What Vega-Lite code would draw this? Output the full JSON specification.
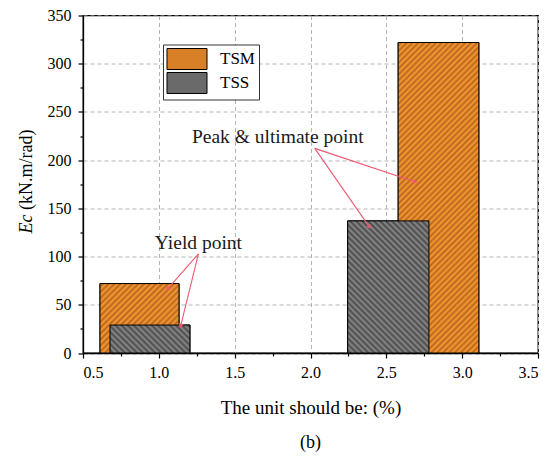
{
  "$schema": "https://vega.github.io/schema/vega-lite/v6.json",
  "width": 455,
  "height": 337.5,
  "autosize": {"type": "none"},
  "padding": {"left": 83, "top": 15.5, "right": 14, "bottom": 103},
  "background": "white",
  "config": {
    "font": "Liberation Serif",
    "style": {"guide-label": {"font": "Liberation Serif"}, "guide-title": {"font": "Liberation Serif"}},
    "view": {"stroke": "black", "strokeWidth": 1.3},
    "axis": {
      "labelFont": "Liberation Serif", "titleFont": "Liberation Serif",
      "labelColor": "black", "titleColor": "black", "domainColor": "black", "tickColor": "black",
      "labelFontSize": 16, "titleFontSize": 19, "titleFontWeight": "normal",
      "gridColor": "#b4b4b4", "gridDash": [4, 3], "gridWidth": 1, "domainWidth": 1.3, "tickWidth": 1.2
    }
  },
  "title": {"text": "(b)", "orient": "bottom", "fontSize": 18, "fontWeight": "normal", "font": "Liberation Serif", "color": "black", "offset": 17},
  "data": {
    "values": [
      {"id": "TSM1", "series": "TSM", "x0": 0.612, "x1": 1.133, "ec": 72},
      {"id": "TSM2", "series": "TSM", "x0": 2.578, "x1": 3.11, "ec": 322},
      {"id": "TSS1", "series": "TSS", "x0": 0.678, "x1": 1.205, "ec": 29},
      {"id": "TSS2", "series": "TSS", "x0": 2.245, "x1": 2.781, "ec": 137}
    ]
  },
  "resolve": {"axis": {"y": "independent", "x": "independent"}},
  "layer": [
    {
      "mark": {"type": "bar", "stroke": "black", "strokeWidth": 1, "opacity": 1},
      "encoding": {
        "x": {
          "field": "x0", "type": "quantitative",
          "scale": {"domain": [0.5, 3.5], "nice": false, "zero": false},
          "axis": {"orient": "bottom", "title": "The unit should be: (%)", "values": [0.5, 1, 1.5, 2, 2.5, 3, 3.5], "format": ".1f", "tickSize": 5, "labelPadding": 6, "labelFont": "Liberation Serif", "labelFontSize": 16, "titleY": 60.3, "titleBaseline": "alphabetic", "titleAlign": "center", "titleFontSize": 19}
        },
        "x2": {"field": "x1"},
        "y": {
          "field": "ec", "type": "quantitative",
          "scale": {"domain": [0, 350], "nice": false},
          "axis": {"orient": "left", "title": "(kN.m/rad)", "values": [0, 50, 100, 150, 200, 250, 300, 350], "tickSize": 5, "labelPadding": 7, "labelFont": "Liberation Serif", "labelFontSize": 16, "titleX": -52, "titleY": 153.8, "titleAngle": -90, "titleAlign": "center", "titleBaseline": "alphabetic", "titleFontSize": 18}
        },
        "y2": {"datum": 0},
        "color": {
          "field": "series", "type": "nominal",
          "scale": {"domain": ["TSM", "TSS"], "range": ["#d88028", "#6a6a6a"]},
          "legend": {
            "orient": "none", "legendX": 80, "legendY": 29, "title": null,
            "symbolType": "M-1.905,-1H1.905V1H-1.905Z", "symbolSize": 441, "symbolOffset": 9.5,
            "symbolStrokeColor": "black", "symbolStrokeWidth": 1, "symbolOpacity": 1,
            "labelFont": "Liberation Serif", "labelFontSize": 17, "labelColor": "black", "labelOffset": 22,
            "rowPadding": -4, "padding": 3.5, "strokeColor": "#333333", "fillColor": "white"
          }
        }
      }
    },
    {
      "transform": [{"filter": "datum.id === 'TSM1'"}],
      "mark": {"type": "bar", "stroke": "black", "strokeWidth": 1, "opacity": 1, "fill": {"gradient": "linear", "x1": 0, "y1": 0, "x2": 1.06, "y2": 0.9315, "stops": [
        {"offset": 0, "color": "#fa9a32"}, {"offset": 0.02, "color": "#b5661f"}, {"offset": 0.04, "color": "#fa9a32"}, {"offset": 0.06, "color": "#b5661f"},
        {"offset": 0.08, "color": "#fa9a32"}, {"offset": 0.1, "color": "#b5661f"}, {"offset": 0.12, "color": "#fa9a32"}, {"offset": 0.14, "color": "#b5661f"},
        {"offset": 0.16, "color": "#fa9a32"}, {"offset": 0.18, "color": "#b5661f"}, {"offset": 0.2, "color": "#fa9a32"}, {"offset": 0.22, "color": "#b5661f"},
        {"offset": 0.24, "color": "#fa9a32"}, {"offset": 0.26, "color": "#b5661f"}, {"offset": 0.28, "color": "#fa9a32"}, {"offset": 0.3, "color": "#b5661f"},
        {"offset": 0.32, "color": "#fa9a32"}, {"offset": 0.34, "color": "#b5661f"}, {"offset": 0.36, "color": "#fa9a32"}, {"offset": 0.38, "color": "#b5661f"},
        {"offset": 0.4, "color": "#fa9a32"}, {"offset": 0.42, "color": "#b5661f"}, {"offset": 0.44, "color": "#fa9a32"}, {"offset": 0.46, "color": "#b5661f"},
        {"offset": 0.48, "color": "#fa9a32"}, {"offset": 0.5, "color": "#b5661f"}, {"offset": 0.52, "color": "#fa9a32"}, {"offset": 0.54, "color": "#b5661f"},
        {"offset": 0.56, "color": "#fa9a32"}, {"offset": 0.58, "color": "#b5661f"}, {"offset": 0.6, "color": "#fa9a32"}, {"offset": 0.62, "color": "#b5661f"},
        {"offset": 0.64, "color": "#fa9a32"}, {"offset": 0.66, "color": "#b5661f"}, {"offset": 0.68, "color": "#fa9a32"}, {"offset": 0.7, "color": "#b5661f"},
        {"offset": 0.72, "color": "#fa9a32"}, {"offset": 0.74, "color": "#b5661f"}, {"offset": 0.76, "color": "#fa9a32"}, {"offset": 0.78, "color": "#b5661f"},
        {"offset": 0.8, "color": "#fa9a32"}, {"offset": 0.82, "color": "#b5661f"}, {"offset": 0.84, "color": "#fa9a32"}, {"offset": 0.86, "color": "#b5661f"},
        {"offset": 0.88, "color": "#fa9a32"}, {"offset": 0.9, "color": "#b5661f"}, {"offset": 0.92, "color": "#fa9a32"}, {"offset": 0.94, "color": "#b5661f"},
        {"offset": 0.96, "color": "#fa9a32"}, {"offset": 0.98, "color": "#b5661f"}, {"offset": 1, "color": "#fa9a32"}
      ]}},
      "encoding": {
        "x": {"field": "x0", "type": "quantitative", "axis": null},
        "x2": {"field": "x1"},
        "y": {"field": "ec", "type": "quantitative", "axis": null},
        "y2": {"datum": 0}
      }
    },
    {
      "transform": [{"filter": "datum.id === 'TSM2'"}],
      "mark": {"type": "bar", "stroke": "black", "strokeWidth": 1, "opacity": 1, "fill": {"gradient": "linear", "x1": 0, "y1": 0, "x2": 0.3067, "y2": 1.1802, "stops": [
        {"offset": 0, "color": "#fa9a32"}, {"offset": 0.0075, "color": "#b5661f"}, {"offset": 0.015, "color": "#fa9a32"}, {"offset": 0.0225, "color": "#b5661f"},
        {"offset": 0.03, "color": "#fa9a32"}, {"offset": 0.0375, "color": "#b5661f"}, {"offset": 0.045, "color": "#fa9a32"}, {"offset": 0.0525, "color": "#b5661f"},
        {"offset": 0.06, "color": "#fa9a32"}, {"offset": 0.0675, "color": "#b5661f"}, {"offset": 0.075, "color": "#fa9a32"}, {"offset": 0.0825, "color": "#b5661f"},
        {"offset": 0.09, "color": "#fa9a32"}, {"offset": 0.0975, "color": "#b5661f"}, {"offset": 0.105, "color": "#fa9a32"}, {"offset": 0.1125, "color": "#b5661f"},
        {"offset": 0.12, "color": "#fa9a32"}, {"offset": 0.1275, "color": "#b5661f"}, {"offset": 0.135, "color": "#fa9a32"}, {"offset": 0.1425, "color": "#b5661f"},
        {"offset": 0.15, "color": "#fa9a32"}, {"offset": 0.1575, "color": "#b5661f"}, {"offset": 0.165, "color": "#fa9a32"}, {"offset": 0.1725, "color": "#b5661f"},
        {"offset": 0.18, "color": "#fa9a32"}, {"offset": 0.1875, "color": "#b5661f"}, {"offset": 0.195, "color": "#fa9a32"}, {"offset": 0.2025, "color": "#b5661f"},
        {"offset": 0.21, "color": "#fa9a32"}, {"offset": 0.2175, "color": "#b5661f"}, {"offset": 0.225, "color": "#fa9a32"}, {"offset": 0.2325, "color": "#b5661f"},
        {"offset": 0.24, "color": "#fa9a32"}, {"offset": 0.2475, "color": "#b5661f"}, {"offset": 0.255, "color": "#fa9a32"}, {"offset": 0.2625, "color": "#b5661f"},
        {"offset": 0.27, "color": "#fa9a32"}, {"offset": 0.2775, "color": "#b5661f"}, {"offset": 0.285, "color": "#fa9a32"}, {"offset": 0.2925, "color": "#b5661f"},
        {"offset": 0.3, "color": "#fa9a32"}, {"offset": 0.3075, "color": "#b5661f"}, {"offset": 0.315, "color": "#fa9a32"}, {"offset": 0.3225, "color": "#b5661f"},
        {"offset": 0.33, "color": "#fa9a32"}, {"offset": 0.3375, "color": "#b5661f"}, {"offset": 0.345, "color": "#fa9a32"}, {"offset": 0.3525, "color": "#b5661f"},
        {"offset": 0.36, "color": "#fa9a32"}, {"offset": 0.3675, "color": "#b5661f"}, {"offset": 0.375, "color": "#fa9a32"}, {"offset": 0.3825, "color": "#b5661f"},
        {"offset": 0.39, "color": "#fa9a32"}, {"offset": 0.3975, "color": "#b5661f"}, {"offset": 0.405, "color": "#fa9a32"}, {"offset": 0.4125, "color": "#b5661f"},
        {"offset": 0.42, "color": "#fa9a32"}, {"offset": 0.4275, "color": "#b5661f"}, {"offset": 0.435, "color": "#fa9a32"}, {"offset": 0.4425, "color": "#b5661f"},
        {"offset": 0.45, "color": "#fa9a32"}, {"offset": 0.4575, "color": "#b5661f"}, {"offset": 0.465, "color": "#fa9a32"}, {"offset": 0.4725, "color": "#b5661f"},
        {"offset": 0.48, "color": "#fa9a32"}, {"offset": 0.4875, "color": "#b5661f"}, {"offset": 0.495, "color": "#fa9a32"}, {"offset": 0.5025, "color": "#b5661f"},
        {"offset": 0.51, "color": "#fa9a32"}, {"offset": 0.5175, "color": "#b5661f"}, {"offset": 0.525, "color": "#fa9a32"}, {"offset": 0.5325, "color": "#b5661f"},
        {"offset": 0.54, "color": "#fa9a32"}, {"offset": 0.5475, "color": "#b5661f"}, {"offset": 0.555, "color": "#fa9a32"}, {"offset": 0.5625, "color": "#b5661f"},
        {"offset": 0.57, "color": "#fa9a32"}, {"offset": 0.5775, "color": "#b5661f"}, {"offset": 0.585, "color": "#fa9a32"}, {"offset": 0.5925, "color": "#b5661f"},
        {"offset": 0.6, "color": "#fa9a32"}, {"offset": 0.6075, "color": "#b5661f"}, {"offset": 0.615, "color": "#fa9a32"}, {"offset": 0.6225, "color": "#b5661f"},
        {"offset": 0.63, "color": "#fa9a32"}, {"offset": 0.6375, "color": "#b5661f"}, {"offset": 0.645, "color": "#fa9a32"}, {"offset": 0.6525, "color": "#b5661f"},
        {"offset": 0.66, "color": "#fa9a32"}, {"offset": 0.6675, "color": "#b5661f"}, {"offset": 0.675, "color": "#fa9a32"}, {"offset": 0.6825, "color": "#b5661f"},
        {"offset": 0.69, "color": "#fa9a32"}, {"offset": 0.6975, "color": "#b5661f"}, {"offset": 0.705, "color": "#fa9a32"}, {"offset": 0.7125, "color": "#b5661f"},
        {"offset": 0.72, "color": "#fa9a32"}, {"offset": 0.7275, "color": "#b5661f"}, {"offset": 0.735, "color": "#fa9a32"}, {"offset": 0.7425, "color": "#b5661f"},
        {"offset": 0.75, "color": "#fa9a32"}, {"offset": 0.7575, "color": "#b5661f"}, {"offset": 0.765, "color": "#fa9a32"}, {"offset": 0.7725, "color": "#b5661f"},
        {"offset": 0.78, "color": "#fa9a32"}, {"offset": 0.7875, "color": "#b5661f"}, {"offset": 0.795, "color": "#fa9a32"}, {"offset": 0.8025, "color": "#b5661f"},
        {"offset": 0.81, "color": "#fa9a32"}, {"offset": 0.8175, "color": "#b5661f"}, {"offset": 0.825, "color": "#fa9a32"}, {"offset": 0.8325, "color": "#b5661f"},
        {"offset": 0.84, "color": "#fa9a32"}, {"offset": 0.8475, "color": "#b5661f"}, {"offset": 0.855, "color": "#fa9a32"}, {"offset": 0.8625, "color": "#b5661f"},
        {"offset": 0.87, "color": "#fa9a32"}, {"offset": 0.8775, "color": "#b5661f"}, {"offset": 0.885, "color": "#fa9a32"}, {"offset": 0.8925, "color": "#b5661f"},
        {"offset": 0.9, "color": "#fa9a32"}, {"offset": 0.9075, "color": "#b5661f"}, {"offset": 0.915, "color": "#fa9a32"}, {"offset": 0.9225, "color": "#b5661f"},
        {"offset": 0.93, "color": "#fa9a32"}, {"offset": 0.9375, "color": "#b5661f"}, {"offset": 0.945, "color": "#fa9a32"}, {"offset": 0.9525, "color": "#b5661f"},
        {"offset": 0.96, "color": "#fa9a32"}, {"offset": 0.9675, "color": "#b5661f"}, {"offset": 0.975, "color": "#fa9a32"}, {"offset": 0.9825, "color": "#b5661f"},
        {"offset": 0.99, "color": "#fa9a32"}, {"offset": 0.9975, "color": "#b5661f"}
      ]}},
      "encoding": {
        "x": {"field": "x0", "type": "quantitative", "axis": null},
        "x2": {"field": "x1"},
        "y": {"field": "ec", "type": "quantitative", "axis": null},
        "y2": {"datum": 0}
      }
    },
    {
      "transform": [{"filter": "datum.id === 'TSS1'"}],
      "mark": {"type": "bar", "stroke": "black", "strokeWidth": 1, "opacity": 1, "fill": {"gradient": "linear", "x1": 0, "y1": 1, "x2": 1.203, "y2": 0.5785, "stops": [
        {"offset": 0, "color": "#8a8a8a"}, {"offset": 0.028, "color": "#4a4a4a"}, {"offset": 0.056, "color": "#8a8a8a"}, {"offset": 0.084, "color": "#4a4a4a"},
        {"offset": 0.112, "color": "#8a8a8a"}, {"offset": 0.14, "color": "#4a4a4a"}, {"offset": 0.168, "color": "#8a8a8a"}, {"offset": 0.196, "color": "#4a4a4a"},
        {"offset": 0.224, "color": "#8a8a8a"}, {"offset": 0.252, "color": "#4a4a4a"}, {"offset": 0.28, "color": "#8a8a8a"}, {"offset": 0.308, "color": "#4a4a4a"},
        {"offset": 0.336, "color": "#8a8a8a"}, {"offset": 0.364, "color": "#4a4a4a"}, {"offset": 0.392, "color": "#8a8a8a"}, {"offset": 0.42, "color": "#4a4a4a"},
        {"offset": 0.448, "color": "#8a8a8a"}, {"offset": 0.476, "color": "#4a4a4a"}, {"offset": 0.504, "color": "#8a8a8a"}, {"offset": 0.532, "color": "#4a4a4a"},
        {"offset": 0.56, "color": "#8a8a8a"}, {"offset": 0.588, "color": "#4a4a4a"}, {"offset": 0.616, "color": "#8a8a8a"}, {"offset": 0.644, "color": "#4a4a4a"},
        {"offset": 0.672, "color": "#8a8a8a"}, {"offset": 0.7, "color": "#4a4a4a"}, {"offset": 0.728, "color": "#8a8a8a"}, {"offset": 0.756, "color": "#4a4a4a"},
        {"offset": 0.784, "color": "#8a8a8a"}, {"offset": 0.812, "color": "#4a4a4a"}, {"offset": 0.84, "color": "#8a8a8a"}, {"offset": 0.868, "color": "#4a4a4a"},
        {"offset": 0.896, "color": "#8a8a8a"}, {"offset": 0.924, "color": "#4a4a4a"}, {"offset": 0.952, "color": "#8a8a8a"}, {"offset": 0.98, "color": "#4a4a4a"}
      ]}},
      "encoding": {
        "x": {"field": "x0", "type": "quantitative", "axis": null},
        "x2": {"field": "x1"},
        "y": {"field": "ec", "type": "quantitative", "axis": null},
        "y2": {"datum": 0}
      }
    },
    {
      "transform": [{"filter": "datum.id === 'TSS2'"}],
      "mark": {"type": "bar", "stroke": "black", "strokeWidth": 1, "opacity": 1, "fill": {"gradient": "linear", "x1": 0, "y1": 1, "x2": 0.721, "y2": -0.1716, "stops": [
        {"offset": 0, "color": "#8a8a8a"}, {"offset": 0.014, "color": "#4a4a4a"}, {"offset": 0.028, "color": "#8a8a8a"}, {"offset": 0.042, "color": "#4a4a4a"},
        {"offset": 0.056, "color": "#8a8a8a"}, {"offset": 0.07, "color": "#4a4a4a"}, {"offset": 0.084, "color": "#8a8a8a"}, {"offset": 0.098, "color": "#4a4a4a"},
        {"offset": 0.112, "color": "#8a8a8a"}, {"offset": 0.126, "color": "#4a4a4a"}, {"offset": 0.14, "color": "#8a8a8a"}, {"offset": 0.154, "color": "#4a4a4a"},
        {"offset": 0.168, "color": "#8a8a8a"}, {"offset": 0.182, "color": "#4a4a4a"}, {"offset": 0.196, "color": "#8a8a8a"}, {"offset": 0.21, "color": "#4a4a4a"},
        {"offset": 0.224, "color": "#8a8a8a"}, {"offset": 0.238, "color": "#4a4a4a"}, {"offset": 0.252, "color": "#8a8a8a"}, {"offset": 0.266, "color": "#4a4a4a"},
        {"offset": 0.28, "color": "#8a8a8a"}, {"offset": 0.294, "color": "#4a4a4a"}, {"offset": 0.308, "color": "#8a8a8a"}, {"offset": 0.322, "color": "#4a4a4a"},
        {"offset": 0.336, "color": "#8a8a8a"}, {"offset": 0.35, "color": "#4a4a4a"}, {"offset": 0.364, "color": "#8a8a8a"}, {"offset": 0.378, "color": "#4a4a4a"},
        {"offset": 0.392, "color": "#8a8a8a"}, {"offset": 0.406, "color": "#4a4a4a"}, {"offset": 0.42, "color": "#8a8a8a"}, {"offset": 0.434, "color": "#4a4a4a"},
        {"offset": 0.448, "color": "#8a8a8a"}, {"offset": 0.462, "color": "#4a4a4a"}, {"offset": 0.476, "color": "#8a8a8a"}, {"offset": 0.49, "color": "#4a4a4a"},
        {"offset": 0.504, "color": "#8a8a8a"}, {"offset": 0.518, "color": "#4a4a4a"}, {"offset": 0.532, "color": "#8a8a8a"}, {"offset": 0.546, "color": "#4a4a4a"},
        {"offset": 0.56, "color": "#8a8a8a"}, {"offset": 0.574, "color": "#4a4a4a"}, {"offset": 0.588, "color": "#8a8a8a"}, {"offset": 0.602, "color": "#4a4a4a"},
        {"offset": 0.616, "color": "#8a8a8a"}, {"offset": 0.63, "color": "#4a4a4a"}, {"offset": 0.644, "color": "#8a8a8a"}, {"offset": 0.658, "color": "#4a4a4a"},
        {"offset": 0.672, "color": "#8a8a8a"}, {"offset": 0.686, "color": "#4a4a4a"}, {"offset": 0.7, "color": "#8a8a8a"}, {"offset": 0.714, "color": "#4a4a4a"},
        {"offset": 0.728, "color": "#8a8a8a"}, {"offset": 0.742, "color": "#4a4a4a"}, {"offset": 0.756, "color": "#8a8a8a"}, {"offset": 0.77, "color": "#4a4a4a"},
        {"offset": 0.784, "color": "#8a8a8a"}, {"offset": 0.798, "color": "#4a4a4a"}, {"offset": 0.812, "color": "#8a8a8a"}, {"offset": 0.826, "color": "#4a4a4a"},
        {"offset": 0.84, "color": "#8a8a8a"}, {"offset": 0.854, "color": "#4a4a4a"}, {"offset": 0.868, "color": "#8a8a8a"}, {"offset": 0.882, "color": "#4a4a4a"},
        {"offset": 0.896, "color": "#8a8a8a"}, {"offset": 0.91, "color": "#4a4a4a"}, {"offset": 0.924, "color": "#8a8a8a"}, {"offset": 0.938, "color": "#4a4a4a"},
        {"offset": 0.952, "color": "#8a8a8a"}, {"offset": 0.966, "color": "#4a4a4a"}, {"offset": 0.98, "color": "#8a8a8a"}, {"offset": 0.994, "color": "#4a4a4a"}
      ]}},
      "encoding": {
        "x": {"field": "x0", "type": "quantitative", "axis": null},
        "x2": {"field": "x1"},
        "y": {"field": "ec", "type": "quantitative", "axis": null},
        "y2": {"datum": 0}
      }
    },
    {
      "data": {"values": [
        {"id": "y1", "sx": 1.261, "sy": 102.8, "ex": 1.058, "ey": 66.4},
        {"id": "y2", "sx": 1.261, "sy": 102.8, "ex": 1.144, "ey": 28.2},
        {"id": "p1", "sx": 2.028, "sy": 212.2, "ex": 2.692, "ey": 177.4},
        {"id": "p2", "sx": 2.028, "sy": 212.2, "ex": 2.389, "ey": 130.6}
      ]},
      "layer": [
        {
          "mark": {"type": "rule", "color": "#ec5a72", "strokeWidth": 1.1},
          "encoding": {
            "x": {"field": "sx", "type": "quantitative", "axis": null},
            "y": {"field": "sy", "type": "quantitative", "axis": null},
            "x2": {"field": "ex"},
            "y2": {"field": "ey"}
          }
        },
        {
          "transform": [{"filter": "datum.id === 'y1'"}],
          "mark": {"type": "point", "shape": "triangle-up", "filled": true, "color": "#ec5a72", "size": 26, "opacity": 1, "angle": 221},
          "encoding": {"x": {"field": "ex", "type": "quantitative", "axis": null}, "y": {"field": "ey", "type": "quantitative", "axis": null}}
        },
        {
          "transform": [{"filter": "datum.id === 'y2'"}],
          "mark": {"type": "point", "shape": "triangle-up", "filled": true, "color": "#ec5a72", "size": 26, "opacity": 1, "angle": 194},
          "encoding": {"x": {"field": "ex", "type": "quantitative", "axis": null}, "y": {"field": "ey", "type": "quantitative", "axis": null}}
        },
        {
          "transform": [{"filter": "datum.id === 'p1'"}],
          "mark": {"type": "point", "shape": "triangle-up", "filled": true, "color": "#ec5a72", "size": 26, "opacity": 1, "angle": 108},
          "encoding": {"x": {"field": "ex", "type": "quantitative", "axis": null}, "y": {"field": "ey", "type": "quantitative", "axis": null}}
        },
        {
          "transform": [{"filter": "datum.id === 'p2'"}],
          "mark": {"type": "point", "shape": "triangle-up", "filled": true, "color": "#ec5a72", "size": 26, "opacity": 1, "angle": 145},
          "encoding": {"x": {"field": "ex", "type": "quantitative", "axis": null}, "y": {"field": "ey", "type": "quantitative", "axis": null}}
        }
      ]
    },
    {
      "data": {"values": [
        {"label": "Yield point", "lx": 1.261, "ly": 108.1},
        {"label": "Peak & ultimate point", "lx": 1.784, "ly": 218.1}
      ]},
      "mark": {"type": "text", "font": "Liberation Serif", "fontSize": 19.5, "color": "#1a1a1a", "align": "center", "baseline": "alphabetic"},
      "encoding": {
        "x": {"field": "lx", "type": "quantitative", "axis": null},
        "y": {"field": "ly", "type": "quantitative", "axis": null},
        "text": {"field": "label"}
      }
    },
    {
      "mark": {"type": "point", "opacity": 0},
      "encoding": {
        "x": {
          "field": "x0", "type": "quantitative",
          "scale": {"domain": [0.5, 3.5], "nice": false, "zero": false},
          "axis": {"orient": "bottom", "title": null, "values": [0.75, 1.25, 1.75, 2.25, 2.75, 3.25], "labels": false, "domain": false, "grid": false, "tickSize": 3}
        },
        "y": {
          "field": "ec", "type": "quantitative",
          "scale": {"domain": [0, 350], "nice": false},
          "axis": {"orient": "left", "title": "Ec", "titleFontStyle": "italic", "values": [25, 75, 125, 175, 225, 275, 325], "domain": false, "ticks": true, "tickSize": 3, "labels": false, "grid": false, "titleX": -52, "titleY": 208, "titleAngle": -90, "titleAlign": "center", "titleBaseline": "alphabetic", "titleFontSize": 18}
        }
      }
    }
  ]
}
